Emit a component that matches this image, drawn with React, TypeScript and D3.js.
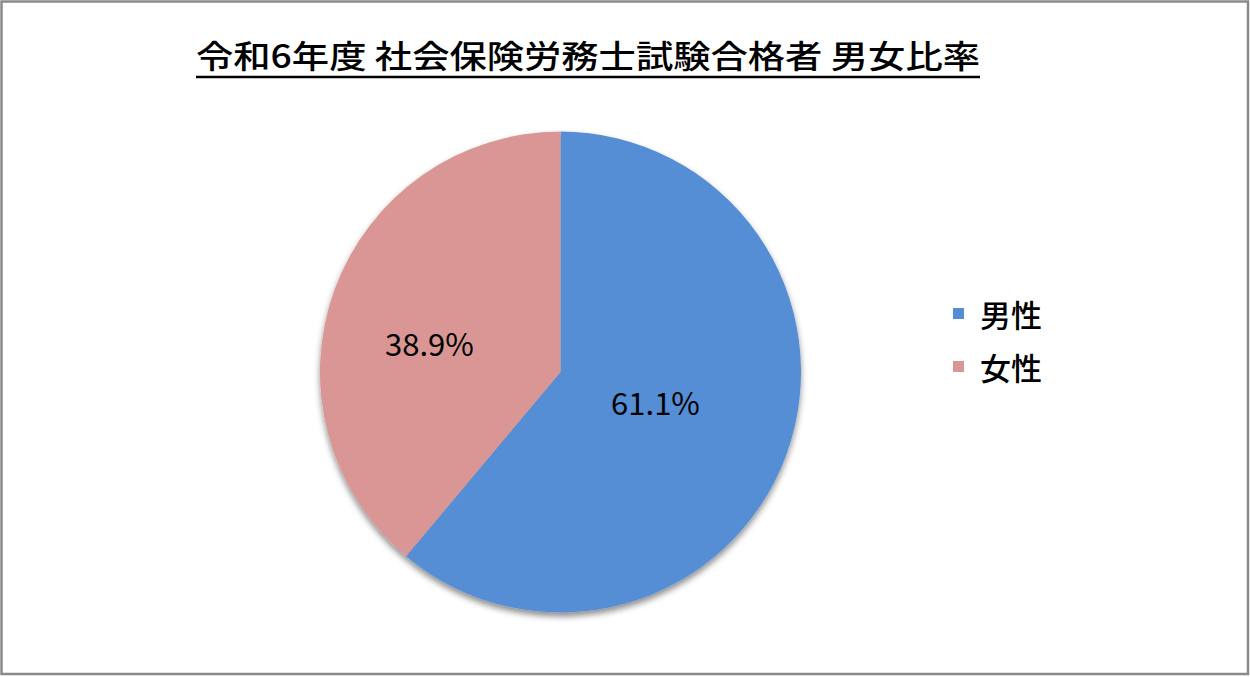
import * as d3 from 'd3';
import React from 'react';

const title = '令和6年度 社会保険労務士試験合格者 男女比率';
const categories = ['男性', '女性'];
const values = [61.1, 38.9];
const colors = ['#558ED5', '#D99694'];

const W = 1250;
const H = 677;
const FONT = '"Noto Sans CJK JP", "Noto Sans", sans-serif';

export default function App() {
  const cx = 560.5;
  const cy = 372;
  const r = 240.5;

  const pie = d3
    .pie<number>()
    .sort(null)
    .value((d) => d);
  const arcs = pie(values);
  const arc = d3.arc<d3.PieArcDatum<number>>().innerRadius(0).outerRadius(r);
  const labelArc = d3
    .arc<d3.PieArcDatum<number>>()
    .innerRadius(r * 0.5)
    .outerRadius(r * 0.5);

  const legendY = d3.scaleBand<string>().domain(categories).range([287, 393]);

  return (
    <svg width={W} height={H} style={{ position: 'absolute', left: 0, top: 0, background: 'white' }}>
      <defs>
        <filter id='shadow' x='-20%' y='-20%' width='140%' height='140%'>
          <feDropShadow dx='0' dy='4' stdDeviation='3' floodColor='#000' floodOpacity='0.45' />
        </filter>
      </defs>
      <rect x={1.5} y={1.5} width={W - 3.5} height={H - 4.5} fill='white' stroke='#8a8a8a' strokeWidth={2.5} />

      <text
        x={196}
        y={68}
        fontFamily={FONT}
        fontSize={32}
        fontWeight={500}
        fill='#000'
        textLength={784}
        lengthAdjust='spacingAndGlyphs'>
        {title}
      </text>
      <line x1={196} x2={980} y1={77} y2={77} stroke='#000' strokeWidth={2.5} />

      <g transform={`translate(${cx},${cy})`}>
        <g filter='url(#shadow)'>
          {arcs.map((a, i) => (
            <path key={i} d={arc(a) ?? ''} fill={colors[i]} />
          ))}
        </g>
        {arcs.map((a, i) => {
          const [x, y] = labelArc.centroid(a);
          return (
            <text
              key={i}
              x={x - 18}
              y={y * 0.72}
              textAnchor='middle'
              dominantBaseline='central'
              fontFamily={FONT}
              fontSize={31}
              fill='#000'>
              {a.data.toFixed(1)}%
            </text>
          );
        })}
      </g>

      {categories.map((c, i) => {
        const y = (legendY(c) ?? 0) + legendY.bandwidth() / 2;
        return (
          <g key={c}>
            <rect x={953} y={y - 5.5} width={11} height={11} fill={colors[i]} />
            <text x={980} y={y} dominantBaseline='central' fontFamily={FONT} fontSize={31} fontWeight={500} fill='#000'>
              {c}
            </text>
          </g>
        );
      })}
    </svg>
  );
}
